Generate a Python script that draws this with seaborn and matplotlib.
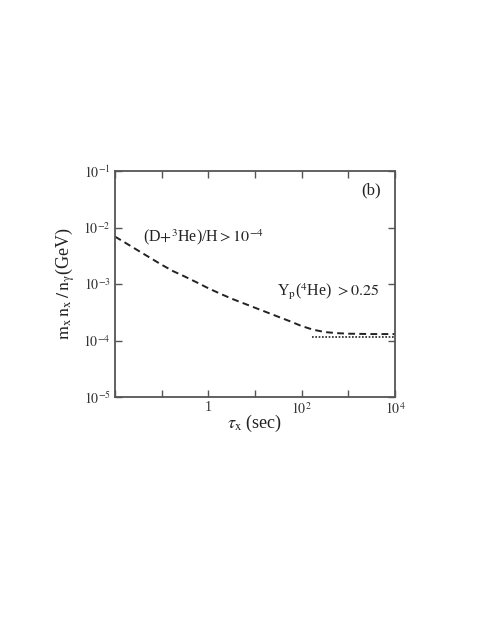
import numpy as np
import pandas as pd
import matplotlib
matplotlib.use("Agg")
import matplotlib.pyplot as plt
import seaborn as sns
from matplotlib.ticker import FixedLocator, FuncFormatter, NullLocator

# values
tau = [1e-2, 1.78e-2, 3.16e-2, 5.62e-2, 0.1, 0.178, 0.316, 0.562, 1, 1.78, 3.16,
       5.62, 10, 17.8, 31.6, 56.2, 100, 178, 316, 562, 1000, 3162, 1e4]
dh_bound = [6.9e-3, 5.19e-3, 3.89e-3, 2.92e-3, 2.19e-3, 1.68e-3, 1.35e-3, 1.07e-3,
            8.41e-4, 6.76e-4, 5.50e-4, 4.57e-4, 3.80e-4, 3.16e-4, 2.63e-4, 2.19e-4,
            1.80e-4, 1.55e-4, 1.41e-4, 1.35e-4, 1.32e-4, 1.30e-4, 1.30e-4]
tau_he = [166, 1e4]
he_bound = [1.15e-4, 1.15e-4]

x_ticks = [1e-2, 1e-1, 1, 1e1, 1e2, 1e3, 1e4]
x_labels = {1: "1", 1e2: "$10^{2}$", 1e4: "$10^{4}$"}
y_ticks = [1e-5, 1e-4, 1e-3, 1e-2, 1e-1]

sns.set_style("ticks")
plt.rcParams["font.family"] = ["Liberation Serif", "DejaVu Serif"]
plt.rcParams["mathtext.fontset"] = "stix"

df_dh = pd.DataFrame({"tau": tau, "val": dh_bound})
df_he = pd.DataFrame({"tau": tau_he, "val": he_bound})

fig = plt.figure(figsize=(4.91, 6.35), dpi=100)
ax = fig.add_axes([0.2342, 0.3748, 0.5703, 0.3559])

sns.lineplot(data=df_dh, x="tau", y="val", ax=ax, color="#222222",
             linewidth=1.4, linestyle=(0, (3.5, 2.2)))
sns.lineplot(data=df_he, x="tau", y="val", ax=ax, color="#222222",
             linewidth=1.2, linestyle=(0, (1, 1)))

ax.set_xscale("log")
ax.set_yscale("log")
ax.set_xlim(1e-2, 1e4)
ax.set_ylim(1e-5, 1e-1)

ax.xaxis.set_major_locator(FixedLocator(x_ticks))
ax.xaxis.set_major_formatter(FuncFormatter(lambda v, p: x_labels.get(round(v, 6), "")))
ax.xaxis.set_minor_locator(NullLocator())
ax.yaxis.set_major_locator(FixedLocator(y_ticks))
ax.yaxis.set_major_formatter(FuncFormatter(lambda v, p: "$10^{%d}$" % round(np.log10(v))))
ax.yaxis.set_minor_locator(NullLocator())

ax.tick_params(which="both", direction="in", top=True, right=True, length=5,
               width=1.0, color="#555555", labelsize=10, labelcolor="#333333", pad=3)
for s in ax.spines.values():
    s.set_color("#555555")
    s.set_linewidth(1.3)

ax.set_xlabel(r"$\tau_{\rm x}$ (sec)", fontsize=13, color="#222222")
ax.set_ylabel(r"$\rm m_x\,n_x\,/\,n_\gamma$(GeV)", fontsize=13, color="#222222")
ax.xaxis.set_label_coords(0.5, -0.07)
ax.yaxis.set_label_coords(-0.135, 0.5)

ax.text(0.914, 0.916, "(b)", transform=ax.transAxes, fontsize=12,
        ha="center", va="center", color="#222222")
ax.text(0.10, 0.708, r"(D$+^{3}$He)/H$>10^{-4}$", transform=ax.transAxes,
        fontsize=11.5, ha="left", va="center", color="#222222")
ax.text(0.58, 0.465, r"Y$_{\rm p}$($^{4}$He) $>0.25$", transform=ax.transAxes,
        fontsize=11.5, ha="left", va="center", color="#222222")

fig.savefig("out.png", dpi=100)
